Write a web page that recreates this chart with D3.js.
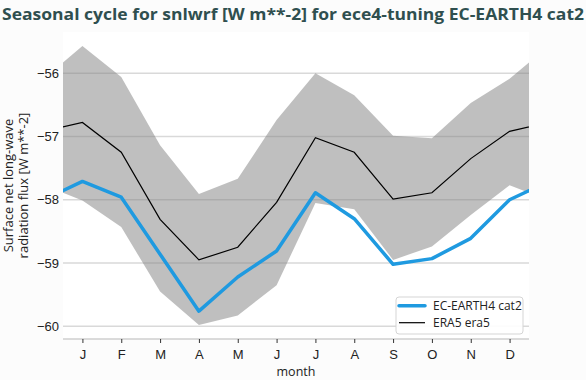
<!DOCTYPE html>
<html><head><meta charset="utf-8">
<script src="https://cdn.jsdelivr.net/npm/d3@7"></script>
<style>body{margin:0;background:#fcfcfc;} svg{display:block;font-family:"Open Sans","DejaVu Sans",sans-serif;}</style>
</head><body>
<script>
const months = ["J","F","M","A","M","J","J","A","S","O","N","D"];
const modelVals = [-57.71,-57.96,-58.86,-59.76,-59.22,-58.81,-57.89,-58.30,-59.02,-58.93,-58.61,-58.00];
const obsVals   = [-56.78,-57.25,-58.31,-58.95,-58.75,-58.04,-57.02,-57.25,-57.99,-57.89,-57.35,-56.92];
const bandUpper = [-55.57,-56.06,-57.14,-57.91,-57.67,-56.74,-56.00,-56.35,-56.99,-57.03,-56.47,-56.09];
const bandLower = [-58.01,-58.43,-59.45,-59.98,-59.83,-59.35,-58.05,-58.15,-58.95,-58.74,-58.24,-57.77];
const yTicks = [-56,-57,-58,-59,-60];
const seriesNames = ["EC-EARTH4 cat2","ERA5 era5"];

const W=586,H=380, L=63,R=529,T=32,B=339;
const svg=d3.select("body").append("svg").attr("width",W).attr("height",H);
svg.append("rect").attr("width",W).attr("height",H).attr("fill","#fcfcfc");
svg.append("rect").attr("x",L).attr("y",T).attr("width",R-L).attr("height",B-T).attr("fill","#ffffff");

const x=d3.scaleLinear().domain([0.5,12.5]).range([L,R]);
const y=d3.scaleLinear().domain([-60.2,-55.35]).range([B,T]);

// cyclic extension: Dec before Jan and Jan after Dec
function wrap(arr){ const o=arr.map((v,i)=>({m:i+1,v})); return [{m:0,v:arr[11]},...o,{m:13,v:arr[0]}]; }

svg.append("clipPath").attr("id","c").append("rect").attr("x",L).attr("y",T).attr("width",R-L).attr("height",B-T);

// grid
svg.append("g").selectAll("line").data(yTicks).join("line")
  .attr("x1",L).attr("x2",R).attr("y1",d=>y(d)).attr("y2",d=>y(d))
  .attr("stroke","#d9d9d9").attr("stroke-width",1.5);

const g=svg.append("g").attr("clip-path","url(#c)");
const lowW=wrap(bandLower);
const band=wrap(bandUpper).map((d,i)=>({m:d.m,hi:d.v,lo:lowW[i].v}));
g.append("path").datum(band)
  .attr("d",d3.area().x(d=>x(d.m)).y0(d=>y(d.lo)).y1(d=>y(d.hi)))
  .attr("fill","#808080").attr("fill-opacity",0.5);
g.append("path").datum(wrap(obsVals))
  .attr("d",d3.line().x(d=>x(d.m)).y(d=>y(d.v)))
  .attr("fill","none").attr("stroke","#000").attr("stroke-width",1.2);
g.append("path").datum(wrap(modelVals))
  .attr("d",d3.line().x(d=>x(d.m)).y(d=>y(d.v)))
  .attr("fill","none").attr("stroke","#1f9ae0").attr("stroke-width",3.5).attr("stroke-linejoin","round");

// bottom spine and ticks
svg.append("line").attr("x1",L).attr("x2",R).attr("y1",B).attr("y2",B).attr("stroke","#cfcfcf").attr("stroke-width",1.5);
const xa=svg.append("g").attr("transform",`translate(0,${B})`)
  .call(d3.axisBottom(x).tickValues(d3.range(1,13)).tickFormat(d=>months[d-1]).tickSize(4).tickPadding(6.5));
xa.select(".domain").remove();
xa.selectAll("line").attr("stroke","#333");
xa.selectAll("text").attr("font-size",13).attr("fill","#222");

const ya=svg.append("g").attr("transform",`translate(${L},0)`)
  .call(d3.axisLeft(y).tickValues(yTicks).tickFormat(d=>"\u2212"+Math.abs(d)).tickSize(0).tickPadding(4));
ya.select(".domain").remove();
ya.selectAll("text").attr("font-size",13).attr("fill","#222");

// labels
svg.append("text").attr("x",(L+R)/2).attr("y",376).attr("text-anchor","middle").attr("font-size",12.5).attr("fill","#222").text("month");
const yl=svg.append("text").attr("transform",`translate(0,${(T+B)/2}) rotate(-90)`).attr("text-anchor","middle").attr("font-size",13).attr("fill","#222");
yl.append("tspan").attr("x",0).attr("y",13).text("Surface net long-wave");
yl.append("tspan").attr("x",0).attr("y",28).text("radiation flux [W m**-2]");

svg.append("text").attr("x",2).attr("y",20).attr("font-size",15.5).attr("font-weight","bold").attr("fill","#2f4f4f")
  .attr("textLength",582).attr("lengthAdjust","spacingAndGlyphs")
  .text("Seasonal cycle for snlwrf [W m**-2] for ece4-tuning EC-EARTH4 cat2");

// legend
const lg=svg.append("g");
lg.append("rect").attr("x",396).attr("y",297).attr("width",127).attr("height",37).attr("rx",3)
  .attr("fill","#fff").attr("fill-opacity",0.9).attr("stroke","#d5d5d5");
const cols=["#1f9ae0","#000"], widths=[3.5,1.2];
seriesNames.forEach((n,i)=>{
  const yy=305.7+i*17;
  lg.append("line").attr("x1",399).attr("x2",425).attr("y1",yy).attr("y2",yy).attr("stroke",cols[i]).attr("stroke-width",widths[i]).attr("stroke-linecap",i==0?"round":"butt");
  lg.append("text").attr("x",433).attr("y",yy+4.3).attr("font-size",12).attr("fill","#222").text(n);
});
</script>
</body></html>
